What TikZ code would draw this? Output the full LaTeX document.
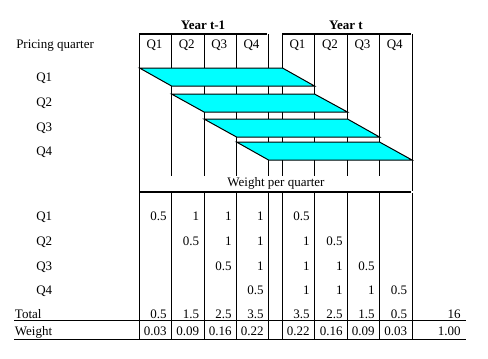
\documentclass[tikz,border=0pt]{standalone}
\usepackage{fontspec}
\setmainfont{Liberation Serif}
\definecolor{aqua}{RGB}{0,255,255}
\begin{document}
\begin{tikzpicture}[x=0.75pt,y=-0.75pt,
  txt/.style={inner sep=0pt,font=\fontsize{9.75}{11}\selectfont},
  num/.style={txt,anchor=base east},
  lbl/.style={txt,anchor=base west},
  hdr/.style={txt,anchor=base},
  thinline/.style={line width=0.75pt},
  thickline/.style={line width=1.5pt},
  band/.style={line width=0.75pt,draw=black,fill=aqua}]
\useasboundingbox (0,0) rectangle (488,358);
\fill[white] (0,0) rectangle (488,358);

% year headers
\node[hdr,font=\fontsize{9.75}{11}\selectfont\bfseries] (ytm1) at (203,29) {Year t-1};
\node[hdr,font=\fontsize{9.75}{11}\selectfont\bfseries] (yt) at (346,29) {Year t};
\draw[thickline] (139,33.7) -- (267,33.7);
\draw[thickline] (282,33.7) -- (411,33.7);

% upper grid lines
\foreach \x in {171.5,204,236.5,268.5,282.5,314.5,347.5,379.5}
  \draw[thinline] (\x,34) -- (\x,176);
\draw[thinline] (139.5,34) -- (139.5,191);
\draw[thinline] (412,34) -- (412,191);

% column headers
\node[lbl] (pq) at (16,48) {Pricing quarter};
\foreach \x/\q [count=\j] in {154.5/Q1,186.75/Q2,219.25/Q3,251.5/Q4,297.5/Q1,330/Q2,362.5/Q3,394.75/Q4}
  \node[hdr] (h\j) at (\x,48) {\q};

% bands
\draw[band] (139.5,68) -- (282.5,68) -- (314.5,86) -- (171.5,86) -- cycle;
\draw[band] (171.5,94) -- (314.5,94) -- (347.5,112) -- (204,112) -- cycle;
\draw[band] (204,119) -- (347.5,119) -- (379.5,137) -- (236.5,137) -- cycle;
\draw[band] (236.5,142) -- (379.5,142) -- (412,160) -- (268.5,160) -- cycle;

% upper row labels
\node[lbl] (u1) at (36,81) {Q1};
\node[lbl] (u2) at (36,106.5) {Q2};
\node[lbl] (u3) at (36,131) {Q3};
\node[lbl] (u4) at (36,155.5) {Q4};

\node[hdr] (wpq) at (276,186.5) {Weight per quarter};
\draw[thickline] (139,192) -- (411,192);

% lower grid
\foreach \x in {139.5,171.5,204,236.5,268.5,282.5,314.5,347.5,379.5,412}
  \draw[thinline] (\x,193) -- (\x,340);
\draw[thinline] (14,320.7) -- (466,320.7);
\draw[thinline] (14,339.7) -- (466,339.7);

% lower row labels
\node[lbl] (l1) at (36,220.5) {Q1};
\node[lbl] (l2) at (36,245.5) {Q2};
\node[lbl] (l3) at (36,270) {Q3};
\node[lbl] (l4) at (36,294) {Q4};
\node[lbl] (tot) at (14.7,318.5) {Total};
\node[lbl] (wgt) at (14.7,335) {Weight};

% values
\foreach \x/\v [count=\j] in {167/0.5,199.5/1,232/1,264/1,310/0.5}
  \node[num] (a\j) at (\x,220.5) {\v};
\foreach \x/\v [count=\j] in {199.5/0.5,232/1,264/1,310/1,343/0.5}
  \node[num] (b\j) at (\x,245.5) {\v};
\foreach \x/\v [count=\j] in {232/0.5,264/1,310/1,343/1,375/0.5}
  \node[num] (c\j) at (\x,270) {\v};
\foreach \x/\v [count=\j] in {264/0.5,310/1,343/1,375/1,407.5/0.5}
  \node[num] (d\j) at (\x,294) {\v};
\foreach \x/\v [count=\j] in {167/0.5,199.5/1.5,232/2.5,264/3.5,310/3.5,343/2.5,375/1.5,407.5/0.5,461/16}
  \node[num] (t\j) at (\x,318.5) {\v};
\foreach \x/\v [count=\j] in {167/0.03,199.5/0.09,232/0.16,264/0.22,310/0.22,343/0.16,375/0.09,407.5/0.03,461/1.00}
  \node[num] (w\j) at (\x,335) {\v};
\end{tikzpicture}
\end{document}
